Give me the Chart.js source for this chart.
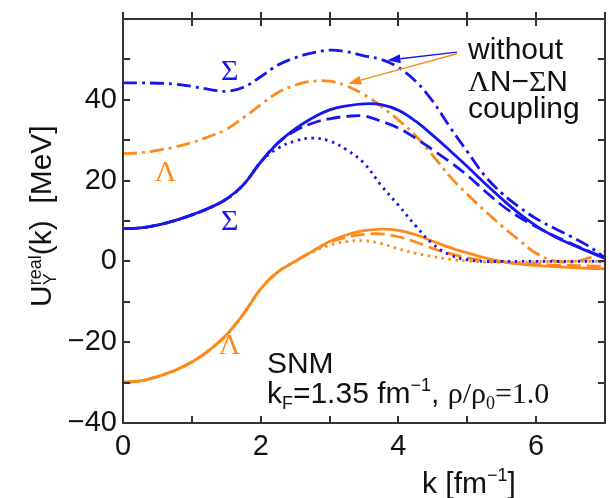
<!DOCTYPE html>
<html>
<head>
<meta charset="utf-8">
<script src="https://cdn.jsdelivr.net/npm/chart.js@4.4.1/dist/chart.umd.min.js"></script>
<style>
  html, body { margin: 0; padding: 0; background: #fff; overflow: hidden; }
  canvas { display: block; }
</style>
</head>
<body>
<canvas id="chart" width="609" height="498"></canvas>
<script>
// momentum grid, k in fm^-1
const kGrid = [0, 0.25, 0.5, 0.75, 1, 1.25, 1.5, 1.75, 2, 2.25, 2.5, 2.75, 3, 3.25, 3.5,
               3.75, 4, 4.25, 4.5, 4.75, 5, 5.25, 5.5, 5.75, 6, 6.25, 6.5, 6.75, 7];

// Sigma potentials (MeV)
const sigmaSolid  = [8.1, 8.3, 9.0, 10.1, 11.5, 13.2, 15.4, 19.0, 24.6, 29.3, 32.8, 35.5, 37.5, 38.5, 39.0,
                     38.8, 37.4, 34.7, 31.2, 27.4, 23.5, 19.4, 15.5, 11.9, 8.8, 6.3, 4.3, 2.5, 0.7];
const sigmaDashed = [8.1, 8.3, 9.0, 10.1, 11.5, 13.2, 15.4, 19.0, 24.6, 29.3, 32.3, 34.2, 35.3, 35.9, 36.0,
                     34.7, 33.0, 30.5, 27.6, 24.6, 21.3, 17.5, 13.9, 11.0, 8.6, 6.4, 4.5, 2.6, 0.8];
const sigmaDotted = [8.1, 8.3, 9.0, 10.1, 11.5, 13.2, 15.4, 19.0, 24.6, 28.0, 29.8, 30.5, 29.8, 27.6, 24.3,
                     18.8, 13.9, 8.8, 4.3, 1.6, 0.4, 0.0, 0.0, 0.0, 0.0, 0.0, 0.0, 0.0, 0.0];
const sigmaNoCoup = [44.2, 44.2, 44.1, 43.9, 43.3, 42.6, 42.1, 43.1, 45.7, 48.6, 50.4, 51.6, 52.3, 51.9, 50.9,
                     50.0, 48.0, 44.6, 39.6, 33.2, 27.2, 21.3, 16.9, 13.5, 10.6, 8.3, 6.2, 3.9, 0.9];

// Lambda potentials (MeV)
const lambdaSolid  = [-29.9, -29.6, -28.5, -27.0, -24.9, -22.0, -18.2, -13.0, -6.8, -2.6, 0.0, 2.5, 4.9, 6.6, 7.6,
                      8.0, 7.7, 6.6, 5.0, 3.4, 2.1, 0.9, 0.0, -0.6, -1.0, -1.3, -1.5, -1.7, -1.8];
const lambdaDashed = [-29.9, -29.6, -28.5, -27.0, -24.9, -22.0, -18.2, -13.0, -6.8, -2.6, 0.0, 2.5, 4.7, 6.0, 6.7,
                      6.8, 6.1, 4.8, 3.2, 1.9, 0.9, 0.2, -0.2, -0.5, -0.7, -0.9, -1.0, -1.1, -1.2];
const lambdaDotted = [-29.9, -29.6, -28.5, -27.0, -24.9, -22.0, -18.2, -13.0, -6.8, -2.6, 0.0, 2.3, 4.0, 4.9, 5.1,
                      4.4, 3.1, 2.0, 1.2, 0.5, 0.1, -0.1, -0.2, -0.2, -0.1, 0.0, 0.0, 0.0, 0.0];
const lambdaNoCoup = [26.7, 26.9, 27.5, 28.3, 29.4, 30.9, 32.7, 35.6, 38.8, 41.8, 43.6, 44.6, 44.6, 43.4, 41.3,
                      38.4, 35.0, 31.1, 26.2, 21.0, 16.6, 12.6, 8.8, 5.3, 2.0, 0.2, -0.2, 0.8, 2.4];

const xTicks = [0, 2, 4, 6];
const yTicks = [-40, -20, 0, 20, 40];

const BLUE = '#1616ee';
const ORANGE = '#ff8a1c';
const INK = '#111';
const FRAME = '#333';
const SANS = '"Liberation Sans", Arial, Helvetica, sans-serif';
const SERIF = '"Liberation Serif", "Times New Roman", serif';

const DASH_DOT = [14, 5, 3, 5];
const DASHED = [14, 6];
const DOTTED = [2.5, 4.5];

function series(values, color, dash) {
  return {
    data: kGrid.map((k, i) => ({ x: k, y: values[i] })),
    borderColor: color,
    borderWidth: 2.8,
    borderDash: dash,
    pointRadius: 0,
    tension: 0.4,
    fill: false
  };
}

function drawRich(ctx, x, y, parts) {
  let cx = x;
  for (const p of parts) {
    ctx.font = p.font;
    ctx.fillStyle = p.color || INK;
    ctx.fillText(p.t, cx, y + (p.dy || 0));
    if (!p.stack) cx += ctx.measureText(p.t).width;
  }
}

function arrow(ctx, x0, y0, x1, y1, color) {
  const a = Math.atan2(y1 - y0, x1 - x0);
  const len = 13, half = 4.5;
  const bx = x1 - len * Math.cos(a), by = y1 - len * Math.sin(a);
  ctx.strokeStyle = color;
  ctx.fillStyle = color;
  ctx.lineWidth = 1.4;
  ctx.beginPath();
  ctx.moveTo(x0, y0);
  ctx.lineTo(bx, by);
  ctx.stroke();
  ctx.beginPath();
  ctx.moveTo(x1, y1);
  ctx.lineTo(bx + half * Math.sin(a), by - half * Math.cos(a));
  ctx.lineTo(bx - half * Math.sin(a), by + half * Math.cos(a));
  ctx.closePath();
  ctx.fill();
}

// box frame with inward tick marks, placed from the scales' own ticks
function drawFrame(chart) {
  const { ctx, scales: { x, y } } = chart;
  const left = Math.round(x.getPixelForValue(x.min));
  const right = Math.round(x.getPixelForValue(x.max));
  const top = Math.round(y.getPixelForValue(y.max));
  const bottom = Math.round(y.getPixelForValue(y.min));
  const tl = 7, tw = 2, bw = 2;
  ctx.save();
  ctx.setTransform(1, 0, 0, 1, 0, 0);
  ctx.globalAlpha = 1;
  ctx.fillStyle = FRAME;
  for (const t of x.ticks) {
    const p = Math.round(x.getPixelForValue(t.value)) - tw / 2;
    ctx.fillRect(p, bottom - tl, tw, tl);
    ctx.fillRect(p, top - tl, tw, 2 * tl);
  }
  for (const t of y.ticks) {
    const p = Math.round(y.getPixelForValue(t.value)) - tw / 2;
    ctx.fillRect(left, p, tl, tw);
    ctx.fillRect(right - tl, p, tl, tw);
  }
  ctx.fillRect(left - bw / 2, top - bw / 2, right - left + bw, bw);
  ctx.fillRect(left - bw / 2, bottom - bw / 2, right - left + bw, bw);
  ctx.fillRect(left - bw / 2, top - bw / 2, bw, bottom - top + bw);
  ctx.fillRect(right - bw / 2, top - bw / 2, bw, bottom - top + bw);
  ctx.restore();
}

// frame drawn on its own, after everything else
const frame = {
  id: 'frame',
  afterDraw(chart) {
    drawFrame(chart);
  }
};

// labels, arrows and axis titles
const annotations = {
  id: 'annotations',
  afterDraw(chart) {
    const { ctx, chartArea, scales: { x, y } } = chart;
    const px = k => x.getPixelForValue(k);
    const py = u => y.getPixelForValue(u);

    ctx.save();
    ctx.setLineDash([]);
    ctx.textBaseline = 'alphabetic';

    // species labels
    ctx.textAlign = 'center';
    ctx.font = '30px ' + SERIF;
    ctx.fillStyle = BLUE;
    ctx.fillText('Σ', px(1.55), py(44.8));
    ctx.fillText('Σ', px(1.55), py(7.7));
    ctx.fillStyle = ORANGE;
    ctx.fillText('Λ', px(0.62), py(20.0));
    ctx.fillText('Λ', px(1.55), py(-22.8));

    // "without coupling" note
    ctx.textAlign = 'left';
    const S30 = '30px ' + SANS, T30 = '30px ' + SERIF;
    drawRich(ctx, px(5.01), py(50.2), [{ t: 'without', font: S30 }]);
    drawRich(ctx, px(5.01), py(42.3), [
      { t: 'Λ', font: T30 }, { t: 'N−', font: S30 }, { t: 'Σ', font: T30 }, { t: 'N', font: S30 }
    ]);
    drawRich(ctx, px(5.01), py(35.4), [{ t: 'coupling', font: S30 }]);
    arrow(ctx, px(4.85), py(51.8), px(3.84), py(49.8), BLUE);
    arrow(ctx, px(4.85), py(51.4), px(3.27), py(44.0), ORANGE);

    // matter conditions
    const S18 = '18px ' + SANS, T18 = '18px ' + SERIF;
    drawRich(ctx, px(2.09), py(-27.7), [{ t: 'SNM', font: S30 }]);
    drawRich(ctx, px(2.09), py(-35.1), [
      { t: 'k', font: S30 }, { t: 'F', font: S18, dy: 6 },
      { t: '=1.35 fm', font: S30 }, { t: '−1', font: S18, dy: -12 },
      { t: ', ', font: S30 }, { t: 'ρ/ρ', font: T30 }, { t: '0', font: T18, dy: 6 },
      { t: '=1.0', font: T30 }
    ]);

    // x axis title
    drawRich(ctx, chartArea.left + 299, chart.height - 5, [
      { t: 'k [fm', font: S30 }, { t: '−1', font: S18, dy: -12 }, { t: ']', font: S30 }
    ]);

    // y axis title, rotated
    ctx.translate(chartArea.left - 72, chartArea.bottom - 116);
    ctx.rotate(-Math.PI / 2);
    drawRich(ctx, 0, 0, [
      { t: 'U', font: S30 }, { t: 'Y', font: S18, dy: 5, stack: true },
      { t: 'real', font: S18, dy: -10 }, { t: '(k)', font: S30 }, { t: '  [MeV]', font: S30 }
    ]);
    ctx.restore();
  }
};

function zeroPadding(s) {
  s.paddingTop = 0; s.paddingBottom = 0; s.paddingLeft = 0; s.paddingRight = 0;
}

new Chart(document.getElementById('chart'), {
  type: 'line',
  data: {
    datasets: [
      series(sigmaSolid, BLUE, []),
      series(sigmaDashed, BLUE, DASHED),
      series(sigmaDotted, BLUE, DOTTED),
      series(sigmaNoCoup, BLUE, DASH_DOT),
      series(lambdaSolid, ORANGE, []),
      series(lambdaDashed, ORANGE, DASHED),
      series(lambdaDotted, ORANGE, DOTTED),
      series(lambdaNoCoup, ORANGE, DASH_DOT)
    ]
  },
  options: {
    responsive: false,
    devicePixelRatio: 1,
    animation: false,
    layout: { padding: { top: 19, right: 4, left: 0, bottom: 0 } },
    plugins: { legend: { display: false }, tooltip: { enabled: false } },
    scales: {
      x: {
        type: 'linear', position: 'bottom', min: 0, max: 7,
        grid: { display: false, drawTicks: false },
        border: { display: false },
        ticks: {
          stepSize: 1, autoSkip: false, maxRotation: 0, padding: 7, color: INK,
          font: { family: SANS, size: 29 },
          callback: v => xTicks.includes(v) ? String(v) : ''
        },
        afterFit: s => { s.height = 75; zeroPadding(s); }
      },
      y: {
        type: 'linear', position: 'left', min: -40, max: 60,
        grid: { display: false, drawTicks: false },
        border: { display: false },
        ticks: {
          stepSize: 10, autoSkip: false, padding: 6, color: INK,
          font: { family: SANS, size: 29 },
          callback: v => yTicks.includes(v) ? String(v).replace('-', '\u2212') : ''
        },
        afterFit: s => { s.width = 123; zeroPadding(s); }
      }
    }
  },
  plugins: [annotations, frame]
});
</script>
</body>
</html>
